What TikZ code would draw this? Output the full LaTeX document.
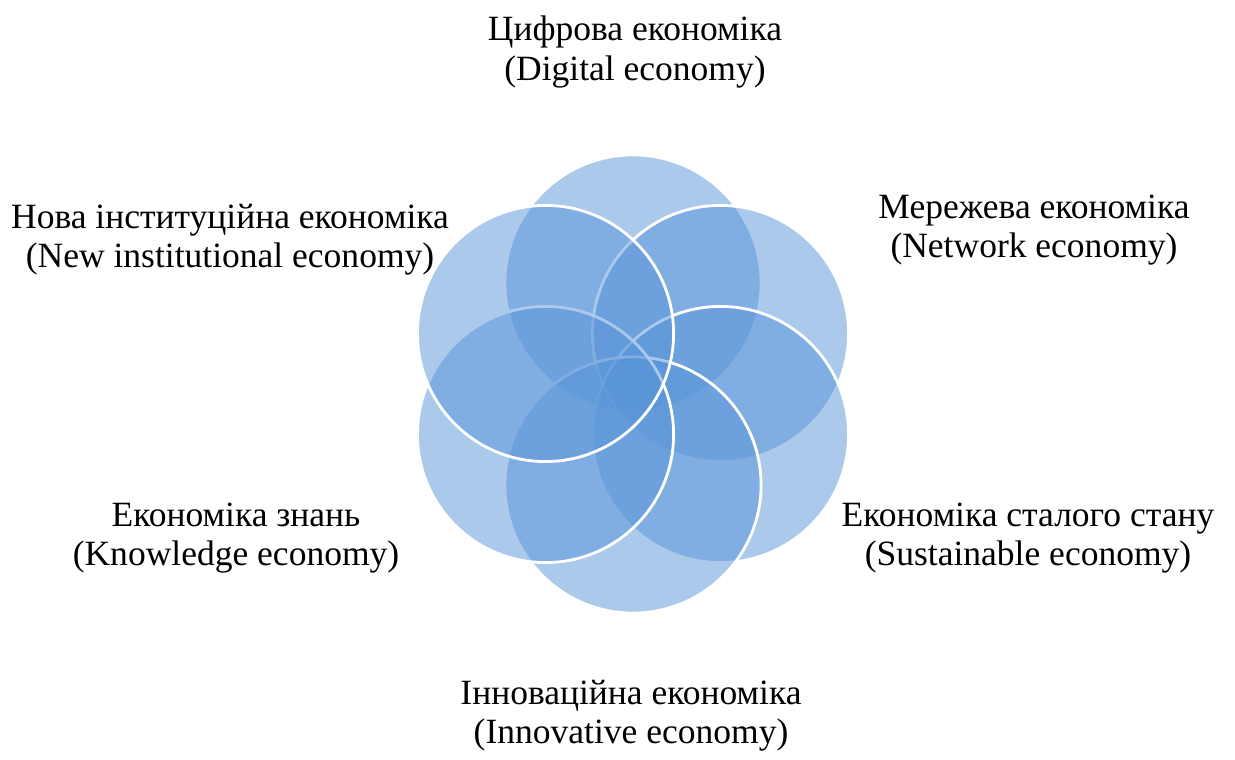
\documentclass[tikz,border=0pt]{standalone}
\usepackage{fontspec}
\setmainfont{Liberation Serif}
\usetikzlibrary{positioning,calc}
\definecolor{petalblue}{RGB}{88,148,216}
\tikzset{
  petal/.style={
    circle,
    fill=petalblue,
    fill opacity=0.5,
    draw=white,
    line width=0.8pt,
    inner sep=0pt,
    minimum size=2.56cm
  },
  caption/.style={
    align=center,
    inner sep=0pt,
    font=\fontsize{10.1}{11.1}\selectfont
  }
}
\begin{document}
\begin{tikzpicture}[x=0.01cm, y=0.01cm]
  \useasboundingbox (0,0) rectangle (1235,760);
  \coordinate (hub) at (633,376);

  % six petals, clockwise from the top
  \foreach \ang/\nm in {90/digital, 30/network, -30/sustain, -90/innov, -150/knowl, 150/instit}
    \node[petal] (\nm) at ($(hub)+(\ang:101)$) {};

  \node[caption] (digitaltxt) at (635,708) {Цифрова економіка\\(Digital economy)};
  \node[caption] (networktxt) at (1034,530) {Мережева економіка\\(Network economy)};
  \node[caption] (sustaintxt) at (1028,222) {Економіка сталого стану\\(Sustainable economy)};
  \node[caption] (innovtxt) at (631,44) {Інноваційна економіка\\(Innovative economy)};
  \node[caption] (knowltxt) at (236,222) {Економіка знань\\(Knowledge economy)};
  \node[caption] (instittxt) at (230,520) {Нова інституційна економіка\\(New institutional economy)};
\end{tikzpicture}
\end{document}
